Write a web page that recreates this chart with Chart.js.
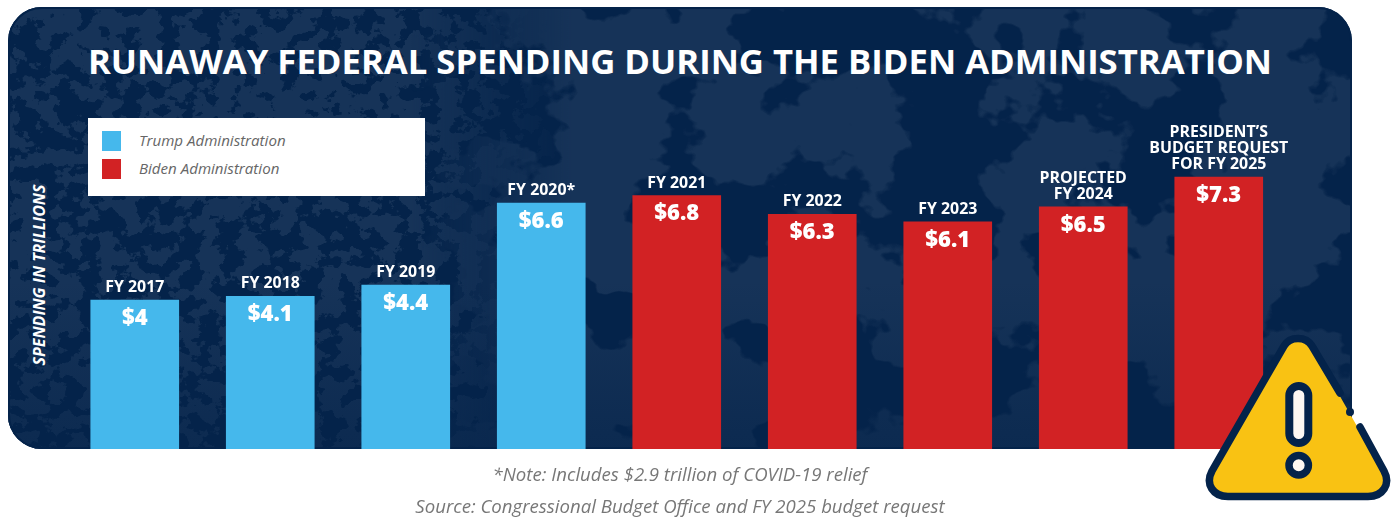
<!DOCTYPE html>
<html lang="en">
<head>
    <meta charset="UTF-8">
    <title>Runaway Federal Spending</title>
    <script src="https://cdn.jsdelivr.net/npm/chart.js"></script>
    <style>
        html, body {
            margin: 0;
            padding: 0;
            width: 1396px;
            height: 517px;
            overflow: hidden;
            background: #fff;
            font-family: "Open Sans", sans-serif;
        }
        .layer { position: absolute; left: 0; top: 0; }
        #title {
            position: absolute;
            left: 0;
            width: 1360px;
            top: 37px;
            text-align: center;
            color: #fff;
            font-size: 34.7px;
            font-weight: 700;
            line-height: 47px;
            white-space: nowrap;
        }
        #axisLabel {
            position: absolute;
            left: 39px;
            top: 275px;
            transform: translate(-50%, -50%) rotate(-90deg);
            color: #fff;
            font-size: 16px;
            font-weight: 700;
            font-style: italic;
            white-space: nowrap;
        }
        #legend {
            position: absolute;
            left: 88px;
            top: 118px;
            width: 337px;
            height: 78px;
            background: #fff;
        }
        .legend-row {
            position: absolute;
            left: 14px;
            height: 20px;
            line-height: 19px;
            color: #666;
            font-size: 15.1px;
            font-style: italic;
            white-space: nowrap;
        }
        .legend-row i {
            display: inline-block;
            width: 19px;
            height: 20px;
            margin-right: 18px;
            vertical-align: top;
        }
        .note {
            position: absolute;
            left: 0;
            width: 1360px;
            text-align: center;
            color: #777;
            font-size: 18.6px;
            font-style: italic;
            line-height: 24px;
            white-space: nowrap;
        }
    </style>
</head>
<body>
    <!-- navy panel with the mottled backdrop: small flecks on the left, wide blotches to the right -->
    <svg class="layer" width="1396" height="517">
        <defs>
            <clipPath id="panelClip"><rect x="8" y="7" width="1344" height="442" rx="34" ry="34"/></clipPath>
            <filter id="flecks" x="0" y="0" width="100%" height="100%" color-interpolation-filters="sRGB">
                <feTurbulence type="fractalNoise" baseFrequency="0.006" numOctaves="1" seed="7" result="broad"/>
                <feTurbulence type="fractalNoise" baseFrequency="0.05 0.06" numOctaves="5" seed="4" result="fine"/>
                <feComposite in="broad" in2="fine" operator="arithmetic" k1="0" k2="0.4" k3="1" k4="-0.2"/>
                <feColorMatrix type="matrix" values="0 0 0 0 0.086  0 0 0 0 0.2  0 0 0 0 0.345  0 0 0 1 0"/>
                <feComponentTransfer>
                    <feFuncA type="linear" slope="30" intercept="-14.1"/>
                </feComponentTransfer>
            </filter>
            <filter id="blotches" x="0" y="0" width="100%" height="100%" color-interpolation-filters="sRGB">
                <feTurbulence type="fractalNoise" baseFrequency="0.009 0.012" numOctaves="5" seed="23"/>
                <feColorMatrix type="matrix" values="0 0 0 0 0.086  0 0 0 0 0.2  0 0 0 0 0.345  0 0 0 1 0"/>
                <feComponentTransfer>
                    <feFuncA type="linear" slope="30" intercept="-14"/>
                </feComponentTransfer>
            </filter>
            <linearGradient id="leftFade" x1="0" x2="1" y1="0" y2="0">
                <stop offset="0.3" stop-color="#fff"/>
                <stop offset="0.42" stop-color="#000"/>
            </linearGradient>
            <linearGradient id="rightFade" x1="0" x2="1" y1="0" y2="0">
                <stop offset="0.3" stop-color="#000"/>
                <stop offset="0.42" stop-color="#fff"/>
            </linearGradient>
            <linearGradient id="floorShade" x1="0" x2="0" y1="0" y2="1">
                <stop offset="0.62" stop-color="#04234a" stop-opacity="0"/>
                <stop offset="1" stop-color="#04234a" stop-opacity="0.55"/>
            </linearGradient>
            <mask id="leftMask"><rect x="8" y="7" width="1344" height="442" fill="url(#leftFade)"/></mask>
            <mask id="rightMask"><rect x="8" y="7" width="1344" height="442" fill="url(#rightFade)"/></mask>
        </defs>
        <g clip-path="url(#panelClip)">
            <rect x="8" y="7" width="1344" height="442" fill="#04234a"/>
            <g mask="url(#leftMask)"><rect x="8" y="7" width="1344" height="442" filter="url(#flecks)"/></g>
            <g mask="url(#rightMask)"><rect x="8" y="7" width="1344" height="442" filter="url(#blotches)"/></g>
            <rect x="8" y="7" width="1344" height="442" fill="url(#floorShade)"/>
        </g>
        <rect x="9" y="8" width="1342" height="440" rx="33" ry="33" fill="none" stroke="#04234a" stroke-width="2"/>
    </svg>

    <div id="title"></div>
    <div id="axisLabel"></div>
    <div id="legend"></div>
    <canvas id="spendingChart" class="layer" width="1396" height="517"></canvas>

    <!-- warning sign sits over the last bar and the panel corner -->
    <svg class="layer" width="1396" height="517">
        <path d="M1298 339 C1304 339 1309 342 1312 347 L1383 472 C1390 484 1382 496 1369 496 L1227 496 C1214 496 1206 484 1213 472 L1284 347 C1287 342 1292 339 1298 339 Z" fill="#f9c213"/>
        <path d="M1340 393 L1312 346 C1306 336 1290 336 1284 346 L1212 471 C1205 484 1213 496.500 1228 496.500 L1368 496.500 C1383 496.500 1391 484 1384 471 L1360 427" fill="none" stroke="#04234a" stroke-width="7.500" stroke-linecap="round"/>
        <circle cx="1350" cy="412" r="4" fill="#04234a"/>
        <rect x="1289.300" y="386" width="19" height="57" rx="9.500" fill="#fdf8f3" stroke="#04234a" stroke-width="8"/>
        <circle cx="1298.700" cy="465.300" r="9.700" fill="#fdf8f3" stroke="#04234a" stroke-width="7.500"/>
    </svg>

    <div class="note" id="note1" style="top:462px"></div>
    <div class="note" id="note2" style="top:494px"></div>

    <script>
        const TITLE = 'RUNAWAY FEDERAL SPENDING DURING THE BIDEN ADMINISTRATION';
        const AXIS_LABEL = 'SPENDING IN TRILLIONS';
        const NOTES = ['*Note: Includes $2.9 trillion of COVID-19 relief', 'Source: Congressional Budget Office and FY 2025 budget request'];

        const categories = [
            ['FY 2017'], ['FY 2018'], ['FY 2019'], ['FY 2020*'], ['FY 2021'], ['FY 2022'], ['FY 2023'],
            ['PROJECTED', 'FY 2024'],
            ['PRESIDENT\u2019S', 'BUDGET REQUEST', 'FOR FY 2025']
        ];
        const spending = [4, 4.1, 4.4, 6.6, 6.8, 6.3, 6.1, 6.5, 7.3];
        const valueLabels = ['$4', '$4.1', '$4.4', '$6.6', '$6.8', '$6.3', '$6.1', '$6.5', '$7.3'];
        const administrations = ['Trump', 'Trump', 'Trump', 'Trump', 'Biden', 'Biden', 'Biden', 'Biden', 'Biden'];
        const adminNames = ['Trump', 'Biden'];
        const adminColors = { Trump: '#45b8ec', Biden: '#d22224' };

        document.getElementById('title').textContent = TITLE;
        document.getElementById('axisLabel').textContent = AXIS_LABEL;
        document.getElementById('note1').textContent = NOTES[0];
        document.getElementById('note2').textContent = NOTES[1];

        const legend = document.getElementById('legend');
        adminNames.forEach((name, i) => {
            const row = document.createElement('div');
            row.className = 'legend-row';
            row.style.top = (13 + i * 28) + 'px';
            row.innerHTML = `<i style="background:${adminColors[name]}"></i>${name} Administration`;
            legend.appendChild(row);
        });

        // FY captions above each bar, dollar amount just inside its top
        const barLabels = {
            id: 'barLabels',
            afterDatasetsDraw(chart) {
                const ctx = chart.ctx;
                const bars = chart.getDatasetMeta(0).data;
                ctx.save();
                ctx.textAlign = 'center';
                ctx.textBaseline = 'middle';
                ctx.fillStyle = '#fff';
                bars.forEach((bar, i) => {
                    ctx.font = '800 22px "Open Sans"';
                    ctx.fillText(valueLabels[i], bar.x, bar.y + 18.5);
                    ctx.font = '700 15.9px "Open Sans"';
                    const lines = categories[i];
                    lines.forEach((line, n) => {
                        ctx.fillText(line, bar.x, bar.y - 12.5 - (lines.length - 1 - n) * 16);
                    });
                });
                ctx.restore();
            }
        };

        new Chart(document.getElementById('spendingChart'), {
            type: 'bar',
            data: {
                labels: categories.map(c => c.join(' ')),
                datasets: [{
                    data: spending,
                    backgroundColor: administrations.map(a => adminColors[a]),
                    borderWidth: 0,
                    barThickness: 88
                }]
            },
            options: {
                responsive: false,
                animation: false,
                layout: { padding: { left: 67, right: 109.5, top: 151, bottom: 68 } },
                plugins: { legend: { display: false }, title: { display: false }, tooltip: { enabled: false } },
                scales: {
                    x: { display: false },
                    y: { display: false, min: 0, max: 8 }
                }
            },
            plugins: [barLabels]
        });
    </script>
</body>
</html>
